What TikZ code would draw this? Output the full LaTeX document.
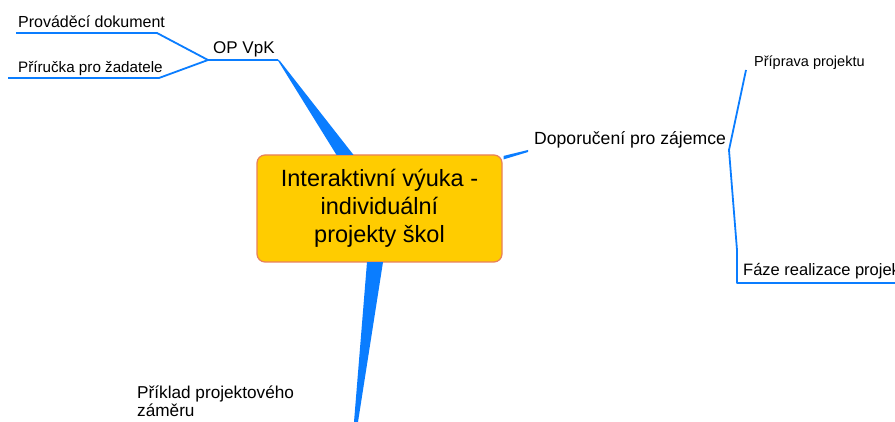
\documentclass[tikz,border=0pt]{standalone}
\usepackage{fontspec}
\setmainfont{Liberation Sans}
\usetikzlibrary{calc}
\definecolor{mmblue}{RGB}{10,125,255}
\definecolor{mmyellow}{RGB}{255,204,0}
\definecolor{mmborder}{RGB}{232,128,90}
\begin{document}
\begin{tikzpicture}[x=1pt,y=-1pt,
  lbl/.style={anchor=base west,inner sep=0pt,font=\fontsize{16}{19}\selectfont},
  conn/.style={draw=mmblue,line width=1.8pt,line join=round},
  branch/.style={fill=mmblue},
  central/.style={draw=mmborder,line width=1.2pt,fill=mmyellow,rounded corners=8pt,
    minimum width=245pt,minimum height=107pt,align=center,inner sep=0pt,
    font=\fontsize{23.5}{28}\selectfont}]
\useasboundingbox (0,0) rectangle (895,422);
\fill[white] (0,0) rectangle (895,422);

% central topic
\node[central] (c) at (379.5,208.5) {Interaktivní výuka -\\individuální\\projekty škol};

% labels
\node[lbl] (pd) at (18,28) {Prováděcí dokument};
\node[lbl,font=\fontsize{15.2}{18}\selectfont] (pz) at (18,73) {Příručka pro žadatele};
\node[lbl,font=\fontsize{17}{20}\selectfont] (op) at (213,54) {OP VpK};
\node[lbl,font=\fontsize{17.6}{20}\selectfont] (dz) at (534,145) {Doporučení pro zájemce};
\node[lbl,font=\fontsize{14.5}{18}\selectfont] (pp) at (754,67) {Příprava projektu};
\node[lbl,font=\fontsize{16.5}{19}\selectfont] (fr) at (743,276) {Fáze realizace projektu};
\node[anchor=north west,inner sep=0pt,align=left,font=\fontsize{17.2}{18}\selectfont] (pk) at (137,385.5) {Příklad projektového\\záměru};

% junction coordinates
\coordinate (pdL) at (16,33);
\coordinate (pdR) at (157,33);
\coordinate (pzL) at (8,78);
\coordinate (pzR) at (159,78);
\coordinate (opL) at (208,60);
\coordinate (opR) at (278,60);
\coordinate (dzL) at (528,151);
\coordinate (dzR) at (729,150);
\coordinate (ppL) at (746,70);
\coordinate (frC) at (737,250);
\coordinate (frL) at (737,283);
\coordinate (frR) at (895,283);
\coordinate (pkB) at (356,422);

% thin connectors
\draw[conn] (pdL) -- (pdR) -- (opL) -- (opR);
\draw[conn] (pzL) -- (pzR) -- (opL);
\draw[conn] (ppL) -- (dzR) -- (frC) -- (frL) -- (frR);

% tapered main branches
\fill[branch] ($(opR)+(-1,-1)$) -- ($(opR)+(2,1)$) -- ($(c.north)+(-26,0.5)$) -- ($(c.north)+(-43,0.5)$) -- cycle;
\fill[branch] ($(c.south)+(-12.5,-0.5)$) -- ($(c.south)+(3.5,-0.5)$) -- ($(pkB)+(2,0)$) -- ($(pkB)+(-2,0)$) -- cycle;
\fill[branch] ($(c.north east)+(1,1.5)$) -- ($(c.north east)+(1,5)$) -- ($(dzL)+(0,1)$) -- ($(dzL)+(0,-1)$) -- cycle;
\end{tikzpicture}
\end{document}
